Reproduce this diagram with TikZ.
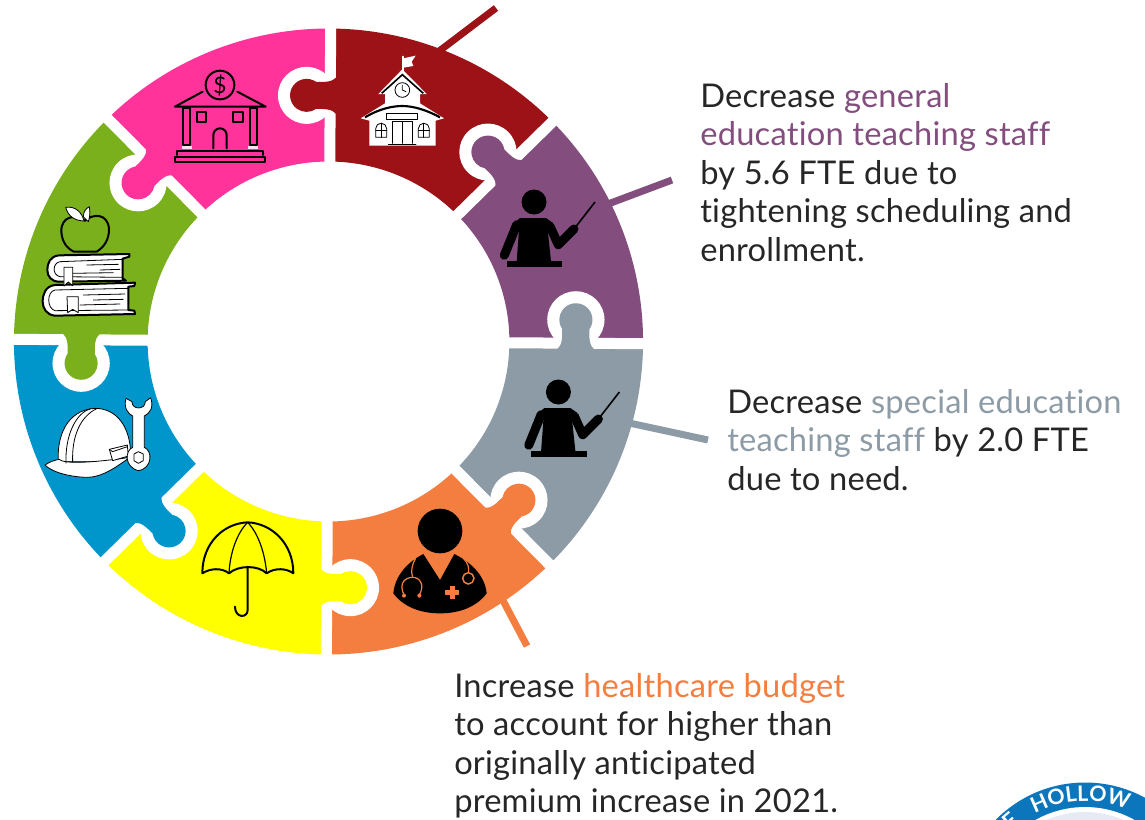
\documentclass[tikz,border=0pt]{standalone}
\usepackage{fontspec}
\setmainfont[LetterSpace=0.7,Ligatures=NoCommon]{Lato}
\newfontfamily\sealfont{Lato}
\usetikzlibrary{decorations.text}

\definecolor{schoolred}{HTML}{9C1216}
\definecolor{staffpurple}{HTML}{834E7E}
\definecolor{specialgray}{HTML}{8C9BA5}
\definecolor{careorange}{HTML}{F37E40}
\definecolor{canopyyellow}{HTML}{FFFF00}
\definecolor{hatblue}{HTML}{0096CC}
\definecolor{applegreen}{HTML}{7AB01C}
\definecolor{bankpink}{HTML}{FF3399}
\definecolor{sealblue}{HTML}{0B76BC}
\definecolor{sealpale}{HTML}{E6EAF5}

\tikzset{
    note/.style={inner sep=0pt, anchor=north west, align=left, text=black!85, font=\fontsize{24.5}{28.9}\selectfont},
    leader/.style={line width=5.25pt},
    ink/.style={black, line width=1.5pt, line join=round, line cap=round},
    fineink/.style={black, line width=0.6pt, line join=round, line cap=round},
    sealtext/.style={decorate, decoration={text along path, text align=left, text={#1}}},
    teacher/.pic={
        \fill (0,0) circle (12.5);
        \draw[line width=6.75pt, line cap=round] (-17.3,22.7) -- (-29.7,53.3);
        \fill (-14,16) -- (12,16) -- (19,21) -- (13.7,28) -- (17,59.3) -- (-17.3,59.3) -- (-15,28) -- (-20,21) -- cycle;
        \draw[line width=6.75pt, line cap=round, line join=round] (16,24.3) -- (24.3,42.7) -- (40,27);
        \draw[line width=1.2pt] (40,27) -- (61,0);
        \fill (-27.3,59.3) rectangle (28.3,65.3);
    }
}

\begin{document}
\begin{tikzpicture}[x=0.75pt, y=-0.75pt]

    \useasboundingbox (0,0) rectangle (1145,819);

    \coordinate (schoolfoot) at (430,58);
    \coordinate (schooltip) at (496,8);
    \coordinate (staffoot) at (600,207);
    \coordinate (stafftip) at (672,180);
    \coordinate (specialfoot) at (620,421);
    \coordinate (specialtip) at (708,440);
    \coordinate (carefoot) at (498,591);
    \coordinate (caretip) at (527,646);

    \draw[leader, schoolred] (schoolfoot) -- (schooltip);
    \draw[leader, staffpurple] (staffoot) -- (stafftip);
    \draw[leader, specialgray] (specialfoot) -- (specialtip);
    \draw[leader, careorange] (carefoot) -- (caretip);

    % ring
    \begin{scope}[shift={(328.5,341.5)}, xscale=1.005, yscale=-1, rotate=0.4]
    \foreach \ang/\piece in {90/schoolred, 45/staffpurple, 0/specialgray, -45/careorange, -90/canopyyellow, -135/hatblue, 180/applegreen, 135/bankpink}{
        \fill[\piece] ({\ang-45}:313) arc ({\ang-45}:\ang:313) -- (\ang:180) arc (\ang:{\ang-45}:180) -- cycle;
    }
    \foreach \ang/\piece in {90/schoolred, 45/staffpurple, 0/specialgray, -45/careorange, -90/canopyyellow, -135/hatblue, 180/applegreen, 135/bankpink}{
        \begin{scope}[rotate=90-\ang]
        \draw[white, line width=8.25pt] (0,170) -- (0,325);
        \fill[white] (-23.5,246) circle (28.5);
        \fill[\piece] (7,268) .. controls (7,262) and (0,259.5) .. (-8.5,259.5) -- (-14,259.5) arc (55:305:16.5) -- (-8.5,232.5) .. controls (0,232.5) and (7,230) .. (7,224) -- cycle;
        \end{scope}
    }
    \end{scope}

    % bank
    \begin{scope}[scale=1/3]
    \draw[ink] (660,255) circle (43);
    \node[font=\sealfont\fontsize{17}{17}\selectfont] (banksign) at (660,256) {\$};
    \draw[ink] (608,275) -- (525,320) -- (797,320) -- (712,275);
    \draw[ink] (548,325) rectangle (570,435);
    \draw[ink] (750,325) rectangle (772,435);
    \draw[ink] (590,337) rectangle (618,367);
    \draw[ink] (700,337) rectangle (728,367);
    \draw[ink] (640,445) -- (640,405) arc (180:360:20) -- (680,445);
    \fill[white!85!bankpink] (545,437) rectangle (575,446);
    \fill[white!85!bankpink] (745,437) rectangle (775,446);
    \draw[ink] (532,465) -- (532,452) -- (790,452) -- (790,465);
    \draw[ink] (525,470) rectangle (795,487);
    \end{scope}

    % school
    \begin{scope}[shift={(320,0)}, scale=1/3]
    \draw[fineink, white, line width=1.5pt] (250,212) -- (250,170);
    \fill[white] (250,175) -- (287,167) -- (275,185) -- (280,198) -- (250,203) -- cycle;
    \fill[white] (247,208) -- (320,282) -- (300,282) -- (300,310) -- (372,355) -- (347,362) -- (347,437) -- (148,437) -- (148,362) -- (122,355) -- (195,310) -- (195,282) -- (175,282) -- cycle;
    \draw[black, line width=1.2pt] (185,280) -- (247,224) -- (310,280);
    \draw[black, line width=1.6pt] (135,352) .. controls (180,325) and (220,318) .. (247,318) .. controls (280,318) and (320,330) .. (360,352);
    \draw[fineink] (247,270) circle (22);
    \draw[fineink] (247,256) -- (247,270) -- (258,275);
    \draw[fineink] (200,340) rectangle (293,358);
    \draw[fineink] (167,412) -- (167,386) arc (180:360:16.5) -- (200,412) -- cycle;
    \draw[fineink] (183.5,370) -- (183.5,412) (167,392) -- (200,392);
    \draw[fineink] (295,412) -- (295,386) arc (180:360:16.5) -- (328,412) -- cycle;
    \draw[fineink] (311.5,370) -- (311.5,412) (295,392) -- (328,392);
    \draw[fineink] (217,430) -- (217,365) -- (277,365) -- (277,430) (247,365) -- (247,430);
    \draw[fineink] (205,432) -- (288,432);
    \end{scope}

    % teachers
    \pic[black] (staffteacher) at (534,202) {teacher};
    \pic[black] (specialteacher) at (558.4,392) {teacher};

    % doctor
    \begin{scope}[shift={(320,330)}, scale=1/3]
    \fill (360,603) circle (67);
    \fill (220,790) .. controls (225,735) and (265,695) .. (310,672) -- (360,750) -- (403,672) .. controls (450,695) and (495,735) .. (500,790) .. controls (470,830) and (420,850) .. (360,850) .. controls (300,850) and (250,830) .. (220,790) -- cycle;
    \draw[careorange, line width=0.9pt] (287,685) .. controls (275,705) and (272,725) .. (278,742);
    \draw[careorange, line width=0.9pt] (252,795) .. controls (235,760) and (255,742) .. (278,742) .. controls (300,742) and (315,765) .. (298,795);
    \draw[careorange, line width=0.9pt] (430,685) .. controls (445,700) and (448,715) .. (445,727);
    \draw[careorange, line width=1.1pt] (445,745) circle (17);
    \fill[careorange] (252,797) circle (6) (298,797) circle (6);
    \fill[careorange] (390,767) rectangle (404,808);
    \fill[careorange] (376,781) rectangle (418,794);
    \end{scope}

    % umbrella
    \begin{scope}[shift={(0,330)}, scale=1/3]
    \draw[ink] (607,730) .. controls (607,640) and (670,580) .. (743,577) .. controls (815,580) and (880,640) .. (880,730) .. controls (860,715) and (825,712) .. (800,730) .. controls (775,705) and (715,705) .. (687,730) .. controls (665,712) and (630,715) .. (607,730) -- cycle;
    \draw[black, line width=0.9pt] (743,577) .. controls (710,610) and (690,670) .. (687,730);
    \draw[black, line width=0.9pt] (743,577) .. controls (775,610) and (795,670) .. (800,730);
    \draw[ink] (743,710) -- (743,840) .. controls (743,865) and (705,865) .. (705,830);
    \end{scope}

    % helmet and wrench
    \begin{scope}[shift={(0,330)}, scale=1/3]
    \draw[fineink, fill=white] (175,395) .. controls (170,320) and (200,240) .. (285,235) .. controls (350,235) and (390,290) .. (392,370) -- (340,395) -- cycle;
    \draw[fineink, fill=white] (135,405) .. controls (150,395) and (165,390) .. (178,388) .. controls (195,405) and (300,395) .. (390,382) .. controls (350,410) and (310,440) .. (265,442) .. controls (220,442) and (160,430) .. (135,405) -- cycle;
    \draw[fineink] (198,400) .. controls (195,320) and (225,250) .. (272,236);
    \draw[fineink] (218,396) .. controls (215,320) and (240,260) .. (290,236);
    \draw[fineink, fill=white] (328,358) -- (382,345) -- (385,378) -- (338,392) -- cycle;
    \draw[fineink] (328,358) -- (338,365) -- (382,350);
    \draw[fineink, fill=white] (378,205) .. controls (370,235) and (385,252) .. (398,258) -- (398,352) .. controls (375,362) and (372,410) .. (415,422) .. controls (458,415) and (458,362) .. (433,352) -- (433,258) .. controls (450,250) and (462,232) .. (452,203) -- (436,215) .. controls (436,240) and (395,240) .. (396,215) -- cycle;
    \draw[fineink, fill=hatblue!0] (402,372) -- (415,365) -- (430,372) -- (430,392) -- (415,400) -- (402,392) -- cycle;
    \end{scope}

    % apple and books
    \begin{scope}[scale=1/3]
    \draw[ink] (255,662) .. controls (225,640) and (182,650) .. (184,695) .. controls (186,725) and (200,745) .. (222,755) -- (290,755) .. controls (315,740) and (328,715) .. (327,685) .. controls (322,640) and (280,640) .. (255,662) -- cycle;
    \draw[fineink, fill=white] (197,622) .. controls (225,618) and (245,635) .. (252,663) .. controls (225,662) and (205,650) .. (197,622) -- cycle;
    \draw[fineink, fill=white] (250,650) .. controls (250,635) and (258,625) .. (268,620) .. controls (272,640) and (268,655) .. (265,665) -- cycle;
    \draw[ink, fill=white] (388,762) -- (178,766) .. controls (150,768) and (142,790) .. (142,810) .. controls (142,830) and (155,845) .. (178,845) -- (378,842) -- (368,835) -- (368,776) -- (388,770) -- cycle;
    \draw[fineink] (368,778) -- (180,785) .. controls (158,788) and (155,825) .. (180,830) -- (368,832);
    \draw[fineink] (260,795) -- (355,793) (300,810) -- (360,808) (215,820) -- (340,818);
    \draw[ink, fill=white] (405,848) -- (165,855) .. controls (135,858) and (128,885) .. (128,905) .. controls (128,925) and (140,945) .. (165,947) -- (405,942) -- (403,932) -- (385,930) -- (385,860) -- (403,858) -- cycle;
    \draw[fineink] (385,865) -- (165,870) .. controls (140,875) and (140,925) .. (165,932) -- (385,930);
    \draw[fineink] (250,885) -- (375,882) (280,900) -- (370,898) (240,915) -- (360,912);
    \draw[fineink, fill=white] (192,802) -- (218,802) -- (218,857) -- (205,846) -- (192,858) -- cycle;
    \draw[fineink, fill=white] (201,890) -- (235,890) -- (235,938) -- (218,928) -- (203,938) -- cycle;
    \end{scope}

    % notes
    \node[note] (generalnote) at (700,83) {Decrease \textcolor{staffpurple}{general}\\\textcolor{staffpurple}{education teaching staff}\\by 5.6 FTE due to\\tightening scheduling and\\enrollment.};
    \node[note] (specialnote) at (727,389) {Decrease \textcolor{specialgray}{special education}\\\textcolor{specialgray}{teaching staff} by 2.0 FTE\\due to need.};
    \node[note] (carenote) at (454,673) {Increase \textcolor{careorange}{healthcare budget}\\to account for higher than\\originally anticipated\\premium increase in 2021.};

    % seal
    \begin{scope}
    \clip (0,0) rectangle (1145,819);
    \begin{scope}[shift={(1085,908)}, yscale=-1]
    \fill[sealblue] (0,0) circle (125.5);
    \fill[white] (0,0) circle (101);
    \fill[sealpale] (0,0) circle (96);
    \path[sealtext={|\sealfont\fontsize{16}{17}\selectfont\bfseries\color{white}|F}] (134:107) arc (134:120:107);
    \path[sealtext={|\sealfont\fontsize{16}{17}\selectfont\bfseries\color{white}|HOLLOW}] (118:107) arc (118:50:107);
    \end{scope}
    \end{scope}

\end{tikzpicture}
\end{document}
